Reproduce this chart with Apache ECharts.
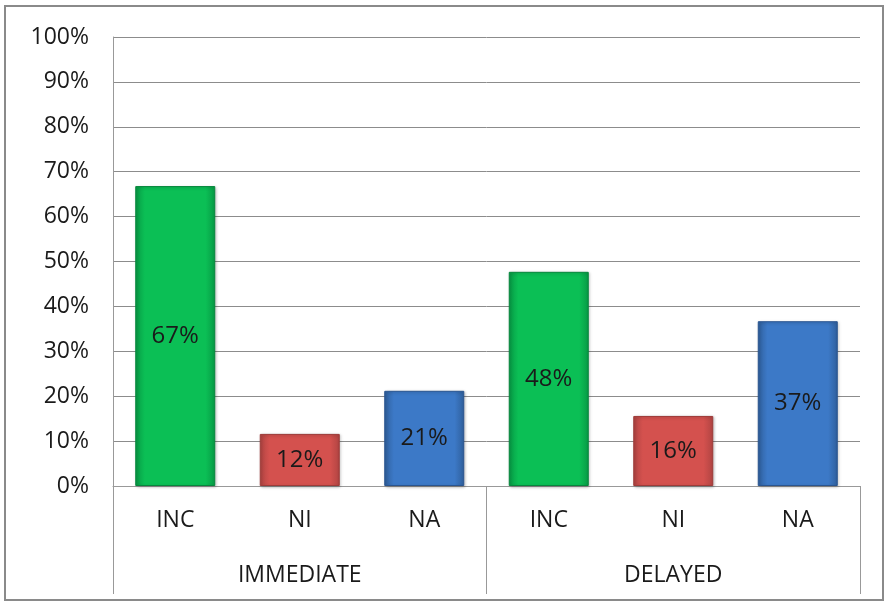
<!DOCTYPE html>
<html>
<head>
<meta charset="utf-8">
<script src="https://cdn.jsdelivr.net/npm/echarts@6/dist/echarts.min.js"></script>
<style>
  html, body { margin: 0; padding: 0; background: #fff; }
  #chart { width: 887px; height: 605px; }
</style>
</head>
<body>
<div id="chart"></div>
<script>
// data
const groups = ['IMMEDIATE', 'DELAYED']
const categories = ['INC', 'NI', 'NA', 'INC', 'NI', 'NA']
const values = [66.8, 11.6, 21.2, 47.7, 15.6, 36.7]
const yTicks = [0, 10, 20, 30, 40, 50, 60, 70, 80, 90, 100]

const font = 'Open Sans'

function grad (dark, mid) {
  return new echarts.graphic.LinearGradient(0, 0, 1, 0, [
    { offset: 0, color: dark },
    { offset: 0.12, color: mid },
    { offset: 0.88, color: mid },
    { offset: 1, color: dark }
  ])
}
const barColors = [
  grad('#079a45', '#0bbf55'),
  grad('#b04442', '#d4514e'),
  grad('#2f5f9c', '#3c79c7')
]
const borderColors = ['#06873c', '#9e3b39', '#2a5590']

const chart = echarts.init(document.getElementById('chart'))
chart.setOption({
  animation: false,
  graphic: [{
    type: 'rect',
    shape: { x: 5, y: 6, width: 878, height: 594 },
    style: { fill: 'none', stroke: '#8a8a8a', lineWidth: 2 },
    silent: true
  }],
  grid: { left: 113, right: 27, top: 37, bottom: 119 },
  xAxis: [{
    type: 'category',
    data: categories,
    position: 'bottom',
    axisLine: { show: true, lineStyle: { color: '#999', width: 1 } },
    axisTick: { show: false },
    axisLabel: { color: '#1a1a1a', fontFamily: font, fontSize: 23, margin: 23 }
  }, {
    type: 'category',
    data: groups,
    position: 'bottom',
    axisLine: { show: false },
    axisTick: { show: true, length: 108, interval: 0, lineStyle: { color: '#999' } },
    axisLabel: { color: '#1a1a1a', fontFamily: font, fontSize: 23, margin: 78 }
  }],
  yAxis: {
    type: 'value',
    min: 0,
    max: 100,
    interval: 10,
    axisLine: { show: true, lineStyle: { color: '#999' } },
    axisTick: { show: false },
    splitLine: { lineStyle: { color: '#8c8c8c', width: 1 } },
    axisLabel: {
      color: '#1a1a1a',
      fontFamily: font,
      fontSize: 23,
      margin: 24,
      formatter: v => yTicks.includes(v) ? v + '%' : ''
    }
  },
  series: [{
    type: 'bar',
    xAxisIndex: 0,
    barWidth: 80,
    data: values.map((v, i) => ({
      value: v,
      itemStyle: {
        color: barColors[i % 3],
        borderColor: borderColors[i % 3],
        borderWidth: 1,
        shadowColor: 'rgba(0,0,0,0.25)',
        shadowBlur: 3,
        shadowOffsetX: 1,
        shadowOffsetY: 1
      }
    })),
    label: {
      show: true,
      position: 'inside',
      color: '#1a1a1a',
      fontFamily: font,
      fontSize: 24,
      formatter: p => Math.round(p.value) + '%'
    }
  }]
})
</script>
</body>
</html>
